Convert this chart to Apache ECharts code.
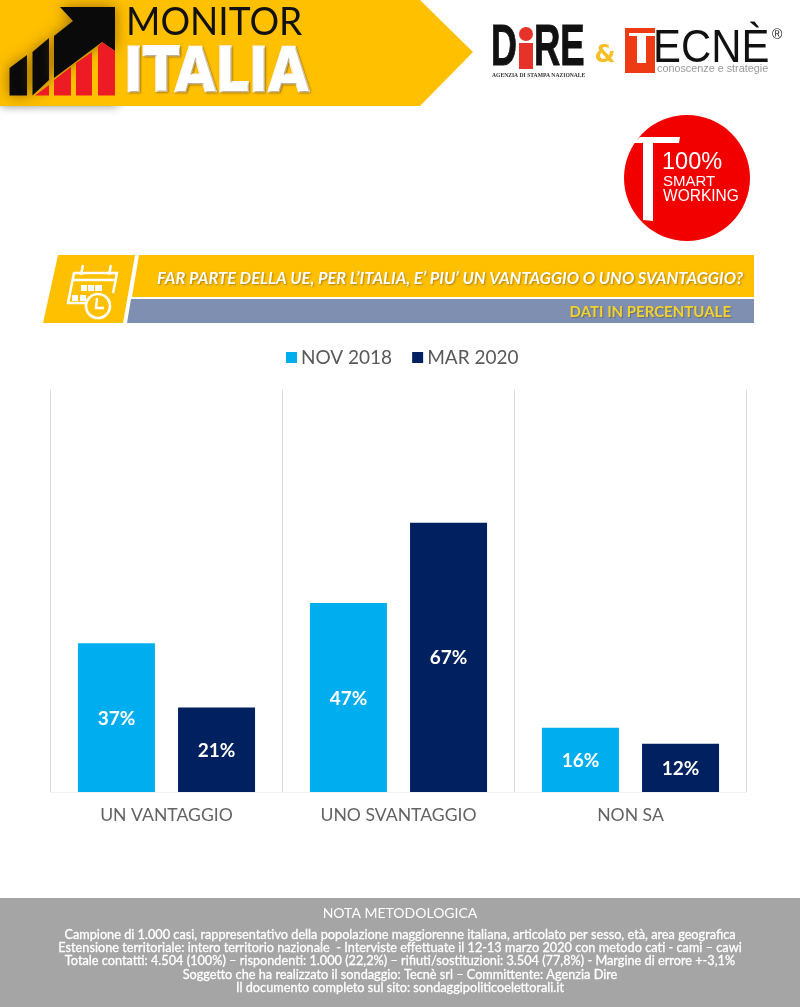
<!DOCTYPE html>
<html>
<head>
<meta charset="utf-8">
<style>
html, body { margin: 0; padding: 0; background: #fff; }
#main { width: 800px; height: 1007px; }
</style>
<script src="https://cdn.jsdelivr.net/npm/echarts@6/dist/echarts.min.js"></script>
</head>
<body>
<div id="main"></div>
<script>
const categories = ['UN VANTAGGIO', 'UNO SVANTAGGIO', 'NON SA']
const nov2018 = [37, 47, 16]
const mar2020 = [21, 67, 12]
const noteLines = [
    'Campione di 1.000 casi, rappresentativo della popolazione maggiorenne italiana, articolato per sesso, età, area geografica',
    'Estensione territoriale: intero territorio nazionale  - Interviste effettuate il 12-13 marzo 2020 con metodo cati - cami – cawi',
    'Totale contatti: 4.504 (100%) – rispondenti: 1.000 (22,2%) – rifiuti/sostituzioni: 3.504 (77,8%) - Margine di errore +-3,1%',
    'Soggetto che ha realizzato il sondaggio: Tecnè srl – Committente: Agenzia Dire',
    'Il documento completo sul sito: sondaggipoliticoelettorali.it'
]

const FONT = 'Lato'
const YELLOW = '#FFC000'

const chartDom = document.getElementById('main')
const myChart = echarts.init(chartDom)

function poly(points, fill, extra) {
    return { type: 'polygon', shape: { points }, style: Object.assign({ fill }, extra || {}) }
}
function rect(x, y, width, height, fill, extra) {
    return { type: 'rect', shape: { x, y, width, height }, style: Object.assign({ fill }, extra || {}) }
}
function label(text, x, y, size, fill, opts) {
    opts = opts || {}
    return {
        type: 'text',
        x, y,
        scaleX: opts.scaleX || 1,
        scaleY: opts.scaleY || 1,
        style: Object.assign({
            text, fill,
            fontSize: size,
            fontFamily: opts.family || FONT,
            fontWeight: opts.weight || 'normal',
            fontStyle: opts.italic ? 'italic' : 'normal',
            textAlign: opts.align || 'left',
            textVerticalAlign: 'middle'
        }, opts.style || {})
    }
}

const logoShadow = { shadowBlur: 14, shadowColor: 'rgba(110,70,0,0.7)' }
const textShadow = { textShadowColor: 'rgba(120,80,0,0.6)', textShadowBlur: 2, textShadowOffsetX: 1, textShadowOffsetY: 1 }

const header = [
    rect(0, 98, 118, 8, '#888', { shadowBlur: 10, shadowColor: 'rgba(0,0,0,0.45)' }),
    poly([[0, 0], [420, 0], [473, 52], [420, 106], [0, 106]], YELLOW),
    poly([[9.5, 68], [27, 55], [27, 95.5], [9.5, 95.5]], '#0a0a0a', logoShadow),
    poly([[32.5, 52], [49, 38], [49, 80], [32.5, 95.5]], '#0a0a0a', logoShadow),
    poly([[60, 7], [115, 7], [115, 51], [102, 42], [54, 78], [54, 36], [73, 21]], '#0a0a0a', logoShadow),
    poly([[35, 95.5], [49, 85], [49, 95.5]], '#ED1C24'),
    poly([[54, 95.5], [54, 80], [71, 67], [71, 95.5]], '#ED1C24'),
    poly([[76, 95.5], [76, 63], [92, 52], [92, 95.5]], '#ED1C24'),
    poly([[98, 95.5], [98, 47], [102, 42], [115, 51], [115, 95.5]], '#ED1C24'),
    label('MONITOR', 126, 22, 39, '#111', { scaleX: 0.95 }),
    label('ITALIA', 124, 75, 68, '#fff', { weight: 'bold', family: 'DejaVu Sans', scaleX: 0.77, scaleY: 0.9, style: Object.assign({ stroke: '#fff', lineWidth: 3 }, textShadow) }),

    // DIRE logo
    label('D', 491, 49, 57, '#111', { weight: 'bold', family: 'Liberation Sans', scaleX: 0.63, style: { stroke: '#111', lineWidth: 1 } }),
    label('RE', 534, 49, 57, '#111', { weight: 'bold', family: 'Liberation Sans', scaleX: 0.64, style: { stroke: '#111', lineWidth: 1 } }),
    { type: 'circle', shape: { cx: 526, cy: 34, r: 7 }, style: { fill: '#E63329' } },
    rect(519, 43, 14, 26, '#E63329'),
    label('AGENZIA DI STAMPA NAZIONALE', 492, 75, 7, '#333', { weight: 'bold', family: 'Liberation Serif', scaleX: 0.8 }),
    label('&', 605, 56, 24, '#F6BF26', { weight: 'bold', family: 'DejaVu Sans', align: 'center' }),

    // Tecne logo
    rect(625, 28, 30, 45, '#EE3B14'),
    rect(629, 33, 26, 3, '#fff'),
    rect(637, 33, 9, 30, '#fff'),
    label('ECNÈ', 653, 49, 46, '#111', { family: 'Liberation Sans', scaleX: 0.91 }),
    label('conoscenze e strategie', 657, 69, 11.5, '#999', { family: 'Liberation Sans', scaleX: 0.94 }),
    label('®', 772, 35, 14, '#222', { family: 'Liberation Sans' }),

    // smart working badge
    { type: 'circle', shape: { cx: 687, cy: 178, r: 63 }, style: { fill: '#F20000' } },
    poly([[640, 137], [680, 137], [679, 143], [653, 143], [653, 221], [643, 220], [643, 143], [633, 143]], '#fff'),
    label('100%', 662, 162, 24, '#fff', { family: 'Liberation Sans', scaleX: 0.98 }),
    label('SMART', 663, 182, 15, '#fff', { family: 'Liberation Sans' }),
    label('WORKING', 663, 197, 16, '#fff', { family: 'Liberation Sans', scaleX: 0.97 })
]

const titleBand = [
    poly([[58, 255], [135, 255], [123, 323], [43, 323]], YELLOW),
    poly([[139, 255], [754, 255], [754, 297], [132, 297]], YELLOW),
    poly([[131, 299], [754, 299], [754, 323], [127, 323]], '#7F8FB1'),
    label('FAR PARTE DELLA UE, PER L’ITALIA, E’ PIU’ UN VANTAGGIO O UNO SVANTAGGIO?', 157, 278, 17.5, '#fff', {
        weight: 'bold', italic: true, scaleX: 0.94, style: textShadow
    }),
    label('DATI IN PERCENTUALE', 731, 312, 15, '#F2D32B', { weight: 'bold', align: 'right', style: { textShadowColor: 'rgba(60,60,60,0.4)', textShadowBlur: 1, textShadowOffsetX: 1, textShadowOffsetY: 1 } })
]

// calendar icon
const iconLine = { fill: 'none', stroke: '#fff', lineWidth: 2.5 }
const icon = [
    { type: 'polyline', shape: { points: [[113, 293], [117, 273], [74, 273], [68, 303], [90, 303]] }, style: iconLine },
    { type: 'line', shape: { x1: 73, y1: 280, x2: 116, y2: 280 }, style: iconLine },
    { type: 'line', shape: { x1: 83, y1: 265, x2: 81, y2: 275 }, style: iconLine },
    { type: 'line', shape: { x1: 111, y1: 265, x2: 109, y2: 275 }, style: iconLine },
    rect(81, 285, 6, 6, '#fff'), rect(88, 285, 6, 6, '#fff'), rect(95, 285, 7, 6, '#fff'),
    rect(72, 295, 6, 6, '#fff'), rect(80, 295, 6, 6, '#fff'),
    { type: 'circle', shape: { cx: 98, cy: 306, r: 12 }, style: { fill: YELLOW, stroke: '#fff', lineWidth: 2.6 } },
    { type: 'polyline', shape: { points: [[97, 298], [96, 308], [104, 308]] }, style: { fill: 'none', stroke: '#fff', lineWidth: 2.4 } }
]

const footer = [
    rect(0, 898, 800, 109, '#A5A5A5'),
    label('NOTA METODOLOGICA', 400, 913, 14, '#fff', { align: 'center' })
].concat(noteLines.map((line, i) => label(line, 400, 934.5 + i * 13.4, 12.5, '#fff', {
    align: 'center', scaleX: 1.017, style: { stroke: '#fff', lineWidth: 0.3 }
})))

const barLabel = {
    show: true, position: 'inside', offset: [0, 1], formatter: '{c}%',
    color: '#fff', fontSize: 19, fontWeight: 'bold', fontFamily: FONT
}

const option = {
    backgroundColor: '#fff',
    animation: false,
    textStyle: { fontFamily: FONT },
    legend: {
        top: 343,
        left: 281,
        itemWidth: 11,
        itemHeight: 11,
        itemGap: 20,
        icon: 'rect',
        textStyle: { fontSize: 19, color: '#595959', fontFamily: FONT, padding: [0, 0, 0, -1] },
        data: ['NOV 2018', 'MAR 2020']
    },
    grid: { left: 50.5, right: 53.5, top: 390, height: 402, containLabel: false },
    xAxis: {
        type: 'category',
        data: categories,
        axisLine: { show: true, lineStyle: { color: '#F2F2F2', width: 1 } },
        axisTick: { show: false },
        splitLine: { show: true, interval: 0, lineStyle: { color: '#D9D9D9', width: 1 } },
        axisLabel: { fontSize: 17.6, color: '#636363', margin: 14, fontFamily: FONT }
    },
    yAxis: { type: 'value', min: 0, max: 100, show: false, splitLine: { show: false } },
    series: [
        {
            name: 'NOV 2018', type: 'bar', data: nov2018, barWidth: 77, barGap: '30%',
            itemStyle: { color: '#00AEEF' },
            label: barLabel
        },
        {
            name: 'MAR 2020', type: 'bar', data: mar2020, barWidth: 77,
            itemStyle: { color: '#002060' },
            label: barLabel
        }
    ],
    graphic: { elements: [].concat(header, titleBand, icon, footer) }
}

myChart.setOption(option)
</script>
</body>
</html>
